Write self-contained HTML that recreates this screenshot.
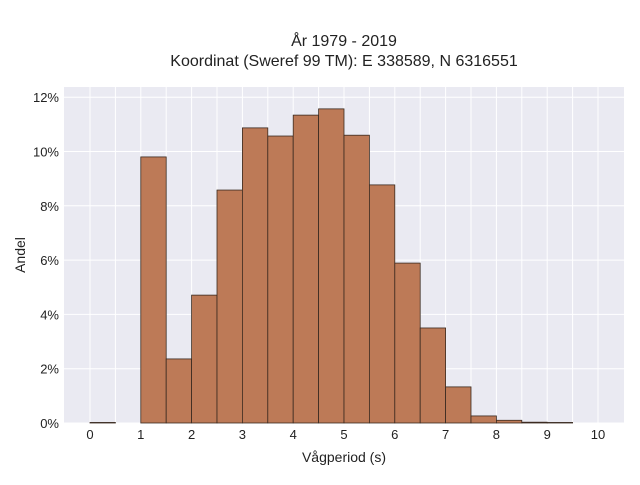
<!DOCTYPE html>
<html><head><meta charset="utf-8"><style>
body{margin:0;background:#fff;font-family:"Liberation Sans",sans-serif;}
</style></head><body>
<svg id="chart" width="640" height="480" xmlns="http://www.w3.org/2000/svg" font-family="Liberation Sans, sans-serif">
<text x="344" y="46" text-anchor="middle" font-size="16" fill="#222">År 1979 - 2019</text>
<text x="344" y="66" text-anchor="middle" font-size="16" fill="#222">Koordinat (Sweref 99 TM): E 338589, N 6316551</text>
<rect x="64" y="87" width="560" height="336" fill="#eaeaf2"/>
<g id="grid"></g><g id="bars"></g><g id="ticks"></g>
<text x="344" y="462" text-anchor="middle" font-size="14" fill="#222">Vågperiod (s)</text>
<text transform="translate(25,255) rotate(-90)" text-anchor="middle" font-size="14" fill="#222">Andel</text>
</svg>
<script>
const binStarts=[0,0.5,1,1.5,2,2.5,3,3.5,4,4.5,5,5.5,6,6.5,7,7.5,8,8.5,9,9.5];
const shares=[0.02,0,9.8,2.36,4.71,8.58,10.87,10.57,11.34,11.57,10.6,8.77,5.89,3.5,1.33,0.26,0.1,0.03,0.02,0];
const xTicks=[0,1,2,3,4,5,6,7,8,9,10];
const yTicks=[0,2,4,6,8,10,12];
const binWidth=0.5;
const NS="http://www.w3.org/2000/svg";
const X=v=>90+v*50.8;
const Y=v=>423-v*27.15;
function mk(tag,attrs,parent){const e=document.createElementNS(NS,tag);for(const k in attrs)e.setAttribute(k,attrs[k]);parent.appendChild(e);return e;}
const grid=document.getElementById('grid'),bars=document.getElementById('bars'),ticks=document.getElementById('ticks');
for(let v=0;v<=10;v+=0.5){const l=mk('line',{x1:X(v),x2:X(v),y1:87,y2:423,stroke:'#fff','stroke-width':1},grid);

}
yTicks.forEach(t=>{const l=mk('line',{x1:64,x2:624,y1:Y(t),y2:Y(t),stroke:'#fff','stroke-width':1},grid);


const tx=mk('text',{x:59,y:Y(t)+5,'text-anchor':'end','font-size':13,fill:'#222'},ticks);tx.textContent=t+'%';

});
xTicks.forEach(t=>{const tx=mk('text',{x:X(t),y:439,'text-anchor':'middle','font-size':13,fill:'#222'},ticks);tx.textContent=t;

});
binStarts.forEach((b,i)=>{const v=shares[i];if(v<=0)return;const r=mk('rect',{x:X(b),y:Y(v),width:X(b+binWidth)-X(b),height:Y(0)-Y(v),fill:'#bd7a57',stroke:'#3a2a20','stroke-width':0.8},bars);

});
</script>
</body></html>
